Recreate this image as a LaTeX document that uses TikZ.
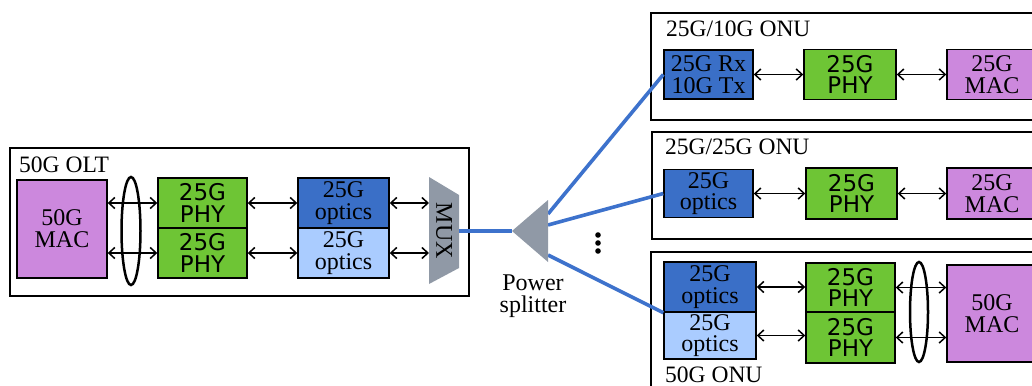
\documentclass[tikz,border=0pt]{standalone}
\usepackage{fontspec}
\setmainfont{Liberation Serif}
\newfontfamily\phyfont{DejaVu Sans}
\usetikzlibrary{arrows.meta,shapes.geometric}
\definecolor{macc}{HTML}{CC88DD}
\definecolor{phyc}{HTML}{6EC535}
\definecolor{optd}{HTML}{3A6FC7}
\definecolor{optl}{HTML}{AACCFF}
\definecolor{muxc}{HTML}{9099A6}
\definecolor{fiber}{HTML}{3D72CC}
\begin{document}
\begin{tikzpicture}[x=1pt,y=-1pt,
  frame/.style={draw,line width=1.8pt,inner sep=0pt,anchor=north west},
  blk/.style={draw,line width=1.4pt,inner sep=0pt,align=center,font=\fontsize{24}{21.5}\selectfont},
  macbox/.style={blk,fill=macc,font=\fontsize{24}{22}\selectfont},
  phybox/.style={blk,fill=phyc,font=\phyfont\fontsize{23}{21.5}\selectfont},
  optdark/.style={blk,fill=optd},
  optlight/.style={blk,fill=optl},
  lnk/.style={{Straight Barb[length=6pt,width=11pt]}-{Straight Barb[length=6pt,width=11pt]},line width=1.5pt},
  fib/.style={draw=fiber,line width=3.6pt},
  lbl/.style={anchor=base west,inner sep=0pt,font=\fontsize{23.5}{23.5}\selectfont},
  ring/.style={ellipse,draw,line width=2.5pt,inner sep=0pt}
]
\useasboundingbox (0,0) rectangle (1032,385);
\clip (0,0) rectangle (1032,385);

% ---------- OLT ----------
\node[frame,minimum width=459pt,minimum height=148pt] (olt) at (9,147) {};
\node[lbl] (oltl) at (19,172) {50G OLT};
\node[macbox,minimum width=90pt,minimum height=98pt] (omac) at (62,229) {50G\\MAC};
\node[phybox,minimum width=89pt,minimum height=50pt] (ophy1) at (202.5,203) {25G\\PHY};
\node[phybox,minimum width=89pt,minimum height=50pt] (ophy2) at (202.5,253) {25G\\PHY};
\node[optdark,minimum width=91pt,minimum height=50pt] (oopt1) at (343.5,203) {25G\\optics};
\node[optlight,minimum width=91pt,minimum height=50pt] (oopt2) at (343.5,253) {25G\\optics};
\node[ring,minimum width=19pt,minimum height=108pt] (oring) at (131,231) {};
\fill[muxc] (429,177) -- (459,195) -- (459,268) -- (429,284) -- cycle;
\coordinate (muxl) at (429,231);
\coordinate (muxr) at (459,231);
\node[rotate=-90,inner sep=0pt,font=\fontsize{24}{24}\selectfont] (mux) at (444,231) {MUX};
\draw[lnk] (omac.east |- ophy1) -- (ophy1.west);
\draw[lnk] (omac.east |- ophy2) -- (ophy2.west);
\draw[lnk] (ophy1.east) -- (oopt1.west);
\draw[lnk] (ophy2.east) -- (oopt2.west);
\draw[lnk] (oopt1.east) -- (oopt1.east -| muxl);
\draw[lnk] (oopt2.east) -- (oopt2.east -| muxl);

% ---------- splitter ----------
\coordinate (sp) at (512,231);
\coordinate (sp1) at (548,214);
\coordinate (sp2) at (548,225);
\coordinate (sp3) at (548,255);
\node[align=center,inner sep=0pt,font=\fontsize{24}{21.5}\selectfont] (spl) at (533,296) {Power\\splitter};
\fill (598,235) circle (2.8pt);
\fill (598,243) circle (2.8pt);
\fill (598,251) circle (2.8pt);

% ---------- top ONU ----------
\node[frame,minimum width=400pt,minimum height=107pt] (onu1) at (650,12) {};
\node[lbl] (onu1l) at (666,36.5) {25G/10G ONU};
\node[optdark,minimum width=89pt,minimum height=49pt] (rx) at (708.5,74.5) {25G Rx\\10G Tx};
\node[phybox,minimum width=92pt,minimum height=50pt] (phy1) at (850,74.5) {25G\\PHY};
\node[macbox,minimum width=90pt,minimum height=50pt] (mac1) at (992,74.5) {25G\\MAC};
\draw[lnk] (rx.east) -- (phy1.west);
\draw[lnk] (phy1.east) -- (mac1.west);

% ---------- middle ONU ----------
\node[frame,minimum width=400pt,minimum height=107pt] (onu2) at (651,131) {};
\node[lbl] (onu2l) at (665,154) {25G/25G ONU};
\node[optdark,minimum width=89pt,minimum height=48pt] (mopt) at (708.5,193.5) {25G\\optics};
\node[phybox,minimum width=91pt,minimum height=51pt] (phy2) at (851.5,193.5) {25G\\PHY};
\node[macbox,minimum width=90pt,minimum height=51pt] (mac2) at (992,193.5) {25G\\MAC};
\draw[lnk] (mopt.east) -- (phy2.west);
\draw[lnk] (phy2.east) -- (mac2.west);

% ---------- bottom ONU ----------
\node[frame,minimum width=400pt,minimum height=150pt] (onu3) at (650,251) {};
\node[lbl] (onu3l) at (665,382) {50G ONU};
\node[optdark,minimum width=92pt,minimum height=50pt] (bopt1) at (710,287) {25G\\optics};
\node[optlight,minimum width=92pt,minimum height=47pt] (bopt2) at (710,335.5) {25G\\optics};
\node[phybox,minimum width=89pt,minimum height=49pt] (bphy1) at (850.5,287.5) {25G\\PHY};
\node[phybox,minimum width=89pt,minimum height=51pt] (bphy2) at (850.5,337.5) {25G\\PHY};
\node[macbox,minimum width=90pt,minimum height=97pt] (bmac) at (992,313.5) {50G\\MAC};
\node[ring,minimum width=18pt,minimum height=100pt] (bring) at (919,312) {};
\draw[lnk] (bopt1.east) -- (bopt1.east -| bphy1.west);
\draw[lnk] (bopt2.east) -- (bopt2.east -| bphy2.west);
\draw[lnk] (bphy1.east) -- (bphy1.east -| bmac.west);
\draw[lnk] (bphy2.east) -- (bphy2.east -| bmac.west);

% ---------- fibres ----------
\draw[fib] (muxr) -- (sp);
\draw[fib] (sp1) -- (rx.west);
\draw[fib] (sp2) -- (mopt.west);
\draw[fib] (sp3) -- (bopt1.south west);
\fill[muxc] (sp) -- (548,200) -- (548,262) -- cycle;
\end{tikzpicture}
\end{document}
